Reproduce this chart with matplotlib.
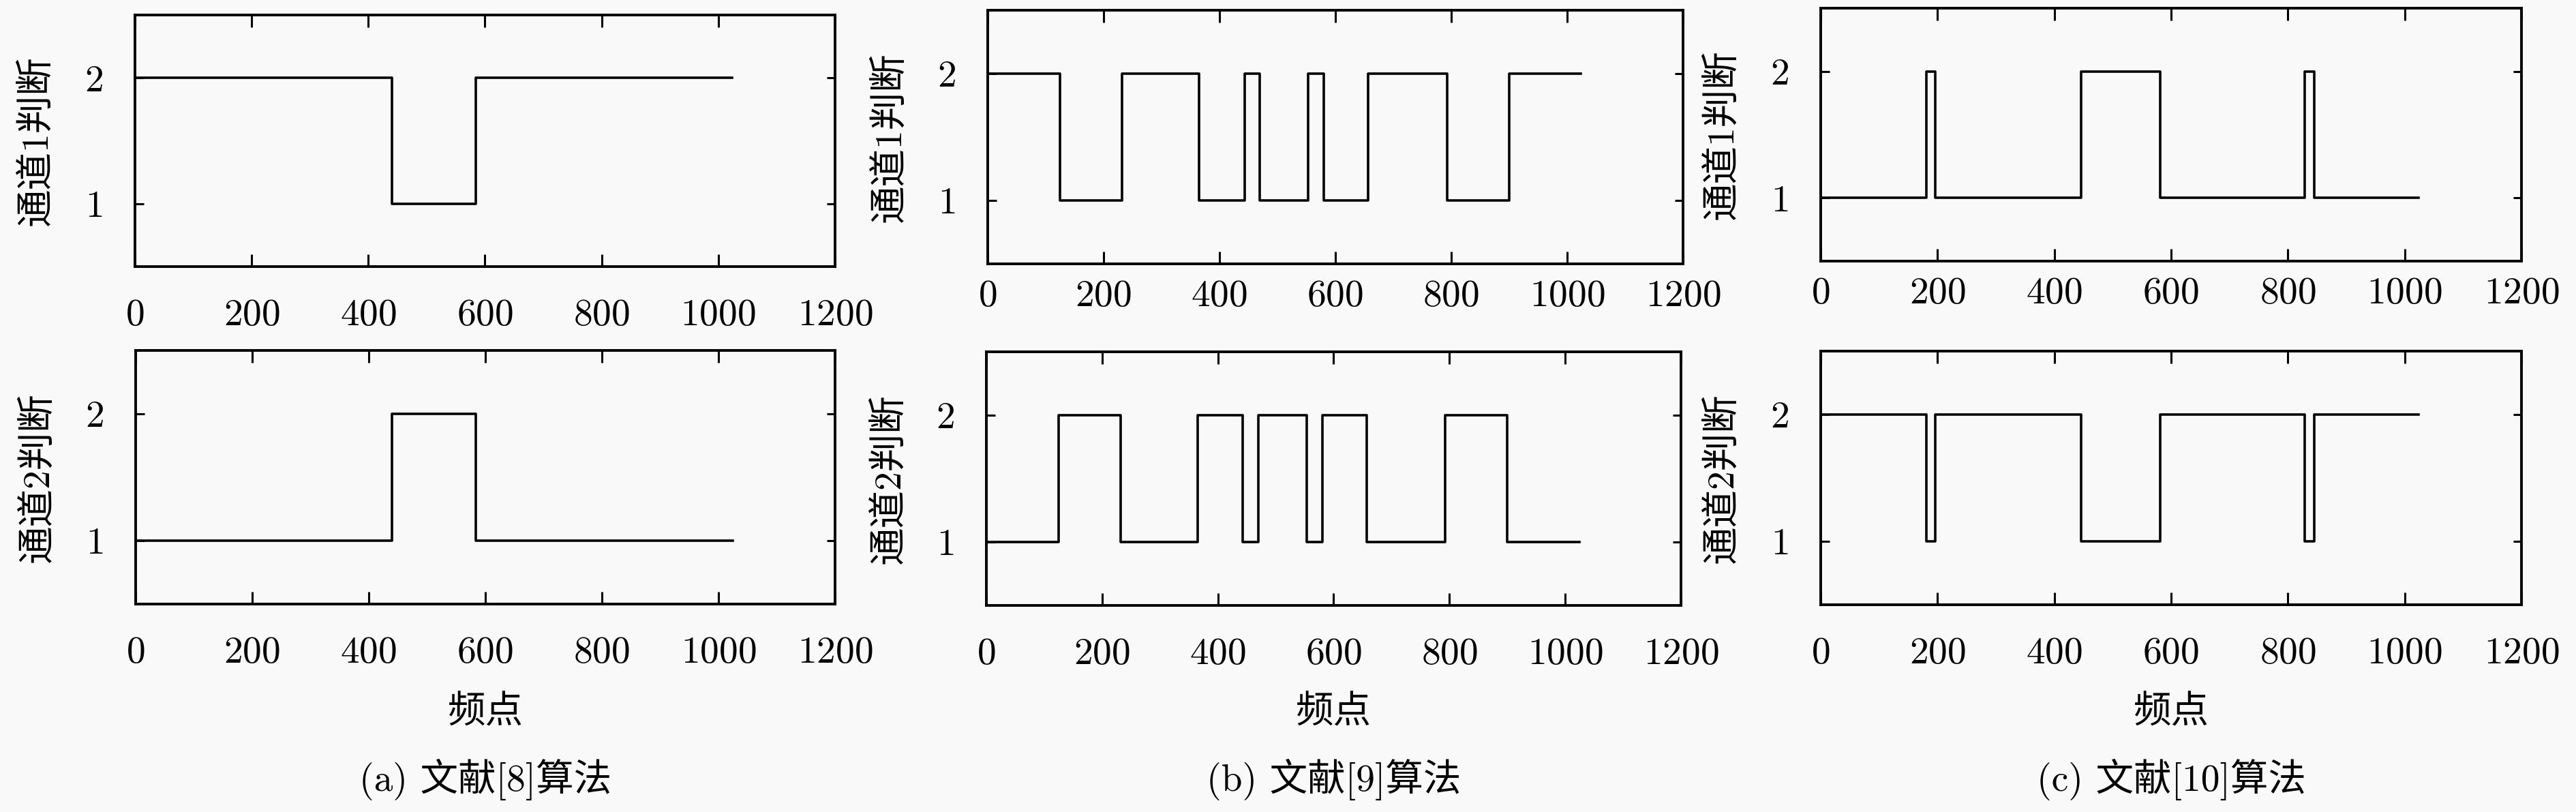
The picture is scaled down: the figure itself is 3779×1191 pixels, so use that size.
import matplotlib
matplotlib.use("Agg")
import matplotlib.pyplot as plt

plt.rcParams['font.family'] = ['cmr10', 'Noto Sans CJK SC', 'DejaVu Sans']
plt.rcParams['axes.formatter.use_mathtext'] = True

# transition points (频点) and starting level of each channel decision
x_end = 1024
a_edges = [440, 584]
a_ch1_start = 2
a_ch2_start = 1
b_edges = [125, 232, 365, 443, 470, 553, 580, 657, 793, 900]
b_ch1_start = 2
b_ch2_start = 1
c_edges = [181, 196, 446, 581, 829, 845]
c_ch1_start = 1
c_ch2_start = 2

ylabels = ['通道1判断', '通道2判断']
xlabel = '频点'
captions = ['(a) 文献[8]算法', '(b) 文献[9]算法', '(c) 文献[10]算法']
xticks = [0, 200, 400, 600, 800, 1000, 1200]
yticks = [1, 2]

panels = [
    (a_edges, a_ch1_start, a_ch2_start),
    (b_edges, b_ch1_start, b_ch2_start),
    (c_edges, c_ch1_start, c_ch2_start),
]

W, H = 3780, 1191
# axes boxes in pixels: left, right, top, bottom
boxes = [
    [(198, 1225, 22, 391), (199, 1225, 514, 886)],
    [(1449, 2469, 15, 387), (1447, 2466, 516, 888)],
    [(2671, 3699, 12, 383), (2671, 3699, 515, 887)],
]
top_pads = [34, 17, 17]

bg = '#f9f9f9'
fs = 40

def levels(edges, start):
    xs = [0] + list(edges) + [x_end]
    ys = []
    v = start
    for i in range(len(xs)):
        ys.append(v)
        v = 3 - v
    ys[-1] = ys[-2]
    return xs, ys

fig = plt.figure(figsize=(W / 100, H / 100), dpi=100, facecolor=bg)

for col, (edges, s1, s2) in enumerate(panels):
    for row, start in enumerate([s1, s2]):
        l, r, t, b = boxes[col][row]
        ax = fig.add_axes([l / W, 1 - b / H, (r - l) / W, (b - t) / H])
        ax.set_facecolor(bg)
        xs, ys = levels(edges, start)
        ax.step(xs, ys, where='post', color='black', lw=2.6)
        ax.set_xlim(0, 1200)
        ax.set_ylim(0.5, 2.5)
        ax.set_xticks(xticks)
        ax.set_yticks(yticks)
        for sp in ax.spines.values():
            sp.set_linewidth(2.8)
        pad = top_pads[col] if row == 0 else 34
        ax.tick_params(axis='x', direction='in', top=True, length=13, width=2.2,
                       labelsize=fs, pad=pad)
        ax.tick_params(axis='y', direction='in', right=True, length=9, width=2.2,
                       labelsize=fs, pad=34)
        ax.text(-0.14, 0.5, ylabels[row], transform=ax.transAxes, rotation=90,
                ha='center', va='center', fontsize=fs)
        if row == 1:
            cx = (l + r) / 2 / W
            fig.text(cx, 1 - 1046 / H, xlabel, ha='center', va='center', fontsize=fs)
            fig.text(cx, 1 - 1143 / H, captions[col], ha='center', va='center', fontsize=fs)

fig.savefig('out.png', dpi=100, facecolor=bg)
